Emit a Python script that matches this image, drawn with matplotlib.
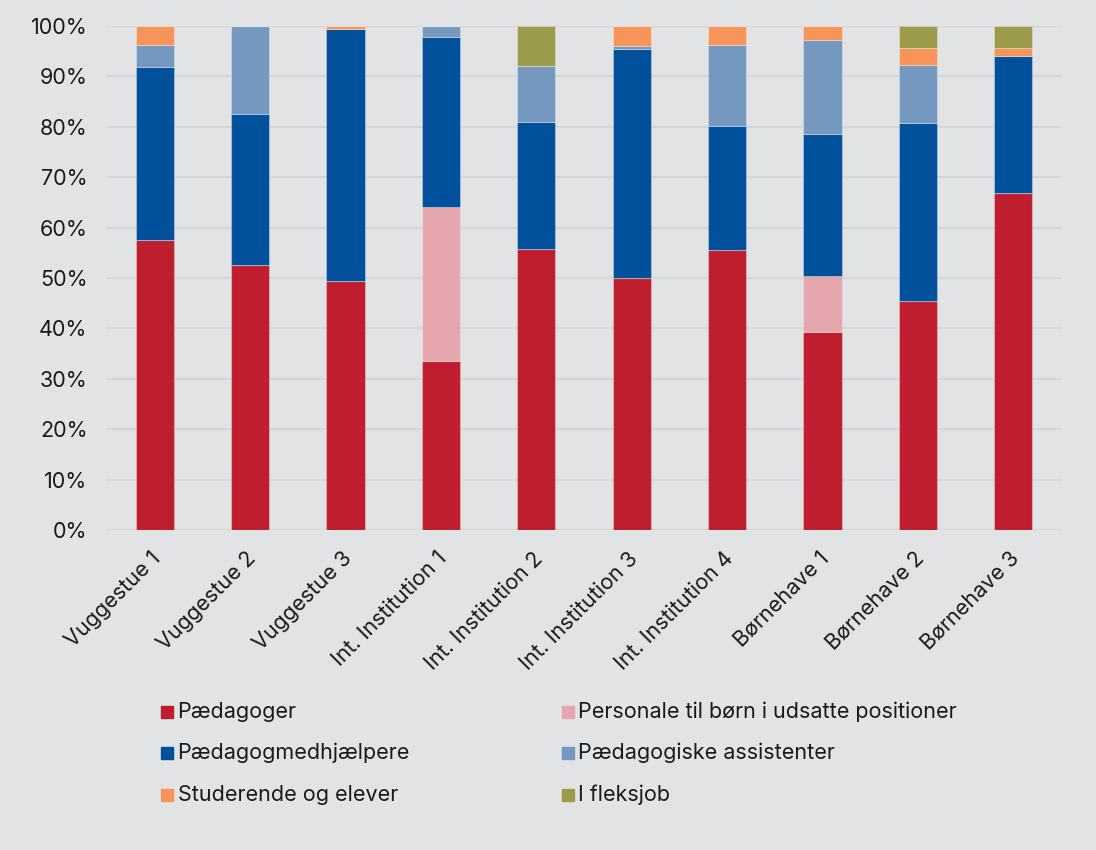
import matplotlib
matplotlib.use('Agg')
import matplotlib.pyplot as plt
import matplotlib.transforms as mtransforms
from matplotlib.patches import Rectangle
import numpy as np

plt.rcParams['font.family'] = ['Inter', 'DejaVu Sans']

institutions = ["Vuggestue 1", "Vuggestue 2", "Vuggestue 3",
                "Int. Institution 1", "Int. Institution 2", "Int. Institution 3",
                "Int. Institution 4", "Børnehave 1", "Børnehave 2", "Børnehave 3"]

paedagoger = [57.6, 52.6, 49.3, 33.5, 55.7, 50.0, 55.6, 39.3, 45.4, 66.8]
udsatte = [0.0, 0.0, 0.0, 30.5, 0.0, 0.0, 0.0, 11.1, 0.0, 0.0]
medhjaelpere = [34.2, 29.9, 50.1, 33.8, 25.2, 45.5, 24.5, 28.2, 35.4, 27.2]
assistenter = [4.5, 17.5, 0.0, 2.2, 11.2, 0.6, 16.2, 18.6, 11.5, 0.0]
studerende = [3.7, 0.0, 0.6, 0.0, 0.0, 3.9, 3.7, 2.8, 3.3, 1.6]
fleksjob = [0.0, 0.0, 0.0, 0.0, 7.9, 0.0, 0.0, 0.0, 4.4, 4.4]

series = [
    ("Pædagoger", paedagoger, "#be1e2d"),
    ("Personale til børn i udsatte positioner", udsatte, "#e6a6ad"),
    ("Pædagogmedhjælpere", medhjaelpere, "#00509b"),
    ("Pædagogiske assistenter", assistenter, "#7598c0"),
    ("Studerende og elever", studerende, "#f7945a"),
    ("I fleksjob", fleksjob, "#9b9b4c"),
]

bg = "#e2e3e5"
txt = "#1a1a1a"
fs = 15.5

fig = plt.figure(figsize=(10.96, 8.5), dpi=100, facecolor=bg)
ax = fig.add_axes([0.0976, 0.3765, 0.8705, 0.593])
ax.set_facecolor(bg)

x = np.arange(len(institutions))
bottom = np.zeros(len(institutions))
for name, vals, color in series:
    vals = np.array(vals)
    ax.bar(x, vals, width=0.4, bottom=bottom, color=color,
           edgecolor=(1, 1, 1, 0.3), linewidth=0.8, zorder=3)
    bottom += vals

ax.set_xlim(-0.5, len(institutions) - 0.5)
ax.set_ylim(0, 100)
ax.set_yticks(np.arange(0, 101, 10))
ax.set_yticklabels([f"{v}%" for v in range(0, 101, 10)])
ax.yaxis.grid(True, color="#d5d6d8", linewidth=1.6, zorder=0)
ax.set_axisbelow(True)
for s in ax.spines.values():
    s.set_visible(False)
ax.tick_params(axis='y', length=0, pad=14, labelsize=fs, labelcolor=txt)
ax.tick_params(axis='x', length=0, pad=6, labelsize=fs, labelcolor=txt)

ax.set_xticks(x)
ax.set_xticklabels(institutions, rotation=45, ha='right', rotation_mode='anchor')
offset = mtransforms.ScaledTranslation(-0.04, -0.1, fig.dpi_scale_trans)
for lbl in ax.get_xticklabels():
    lbl.set_transform(lbl.get_transform() + offset)

# legend laid out in two columns below the plot
col_x = [161 / 1096, 562 / 1096]
row_y = [712, 753, 795]
order = [0, 2, 4, 1, 3, 5]
sw, sh = 11.5 / 1096, 11.5 / 850
for i, idx in enumerate(order):
    name, _, color = series[idx]
    cx = col_x[i // 3]
    cy = 1 - row_y[i % 3] / 850
    fig.add_artist(Rectangle((cx, cy - sh / 2), sw, sh,
                             transform=fig.transFigure, color=color))
    fig.text(cx + 16.5 / 1096, cy, name, fontsize=fs, va='center', ha='left',
             color=txt)

fig.savefig("out.png", dpi=100, facecolor=bg)
